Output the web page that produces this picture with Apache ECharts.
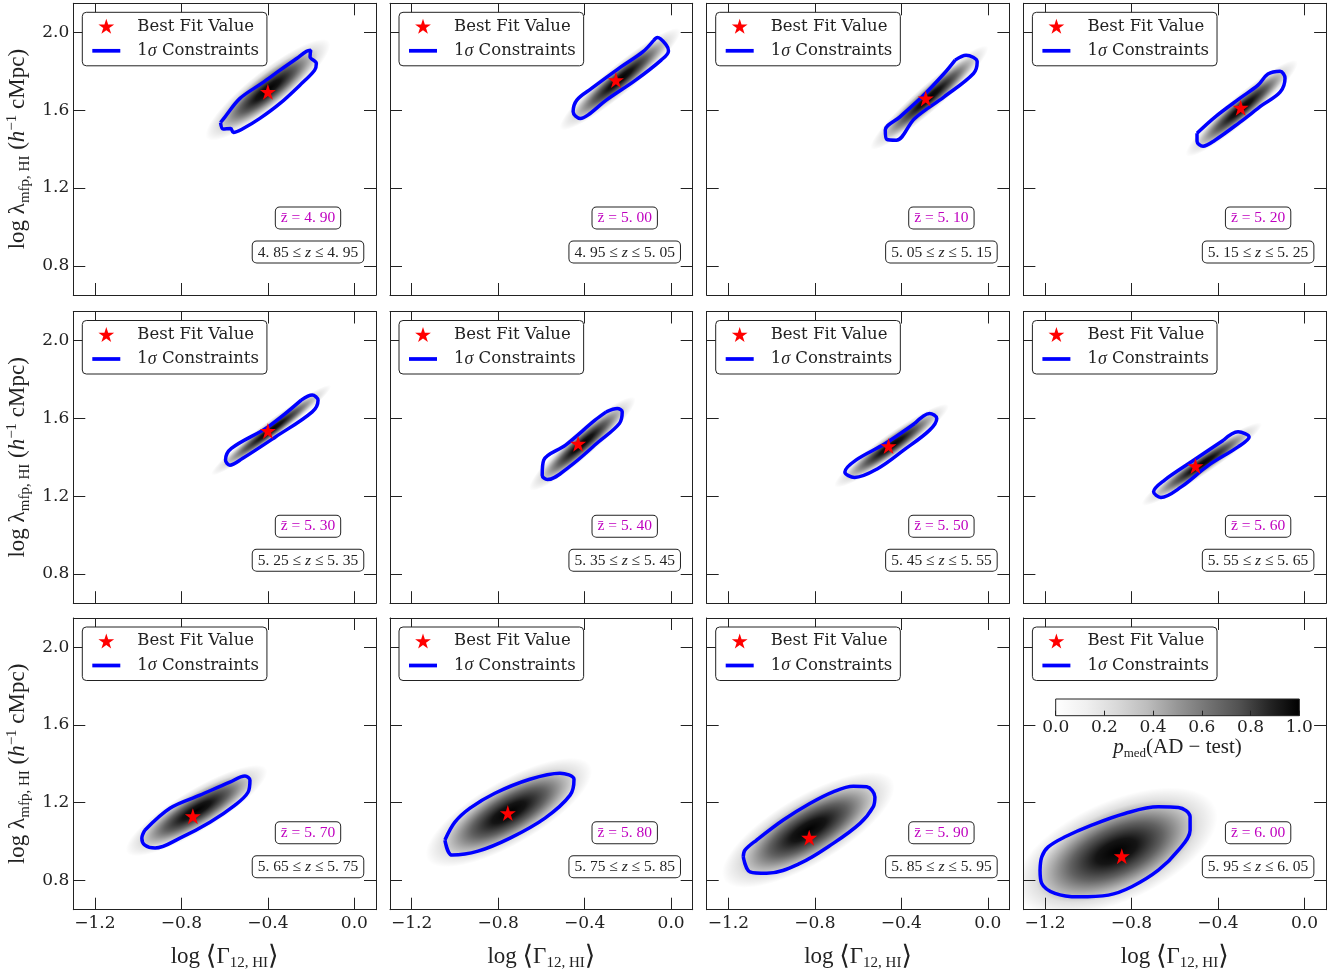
<!DOCTYPE html>
<html>
<head>
<meta charset="utf-8">
<script src="https://cdn.jsdelivr.net/npm/echarts@6/dist/echarts.min.js"></script>
<style>html,body{margin:0;padding:0;background:#fff;}#c{width:1341px;height:976px;}</style>
</head>
<body>
<div id="c"></div>
<script>
// ---------------- DATA ----------------
const xTicks = [-1.2, -0.8, -0.4, 0.0];
const yTicks = [0.8, 1.2, 1.6, 2.0];
const cbTicks = [0.0, 0.2, 0.4, 0.6, 0.8, 1.0];
const zMean = ['4. 90','5. 00','5. 10','5. 20','5. 30','5. 40','5. 50','5. 60','5. 70','5. 80','5. 90','6. 00'];
const zLow  = ['4. 85','4. 95','5. 05','5. 15','5. 25','5. 35','5. 45','5. 55','5. 65','5. 75','5. 85','5. 95'];
const zHigh = ['4. 95','5. 05','5. 15','5. 25','5. 35','5. 45','5. 55','5. 65','5. 75','5. 85','5. 95','6. 05'];
// best fit (log Gamma, log lambda)
const bestX = [-0.40,-0.255,-0.287,-0.295,-0.40,-0.43,-0.459,-0.504,-0.747,-0.755,-0.826,-0.845];
const bestY = [1.695,1.755,1.661,1.613,1.536,1.470,1.458,1.355,1.131,1.147,1.020,0.925];
// density blob: centre, end of major axis, vertical half thickness
const blobCX = [-0.40,-0.235,-0.27,-0.29,-0.385,-0.41,-0.445,-0.475,-0.73,-0.75,-0.83,-0.87];
const blobCY = [1.705,1.76,1.665,1.61,1.54,1.47,1.46,1.365,1.16,1.15,1.06,0.95];
const blobTX = [-0.19,-0.03,-0.07,-0.10,-0.18,-0.23,-0.25,-0.27,-0.49,-0.47,-0.54,-0.53];
const blobTY = [1.89,1.95,1.86,1.79,1.71,1.645,1.615,1.52,1.32,1.33,1.25,1.12];
const blobHT = [0.085,0.065,0.06,0.06,0.04,0.06,0.05,0.045,0.085,0.13,0.14,0.195];
// 1-sigma contours
const contour01 = [[-0.619,1.537],[-0.599,1.565],[-0.529,1.661],[-0.429,1.738],[-0.344,1.806],[-0.267,1.866],[-0.221,1.904],[-0.202,1.909],[-0.205,1.875],[-0.176,1.841],[-0.184,1.806],[-0.252,1.729],[-0.344,1.635],[-0.437,1.558],[-0.514,1.506],[-0.560,1.486],[-0.572,1.506],[-0.607,1.503]];
const contour02 = [[-0.080,1.960],[-0.063,1.974],[-0.022,1.935],[-0.012,1.905],[-0.046,1.858],[-0.164,1.755],[-0.300,1.652],[-0.385,1.575],[-0.420,1.558],[-0.453,1.592],[-0.436,1.652],[-0.368,1.712],[-0.232,1.823],[-0.131,1.900]];
const contour03 = [[-0.151,1.858],[-0.100,1.883],[-0.049,1.849],[-0.066,1.789],[-0.202,1.669],[-0.338,1.558],[-0.423,1.446],[-0.467,1.450],[-0.474,1.498],[-0.406,1.566],[-0.304,1.669],[-0.202,1.789]];
const contour04 = [[-0.497,1.482],[-0.414,1.565],[-0.298,1.662],[-0.215,1.729],[-0.169,1.786],[-0.113,1.801],[-0.090,1.765],[-0.113,1.693],[-0.196,1.626],[-0.298,1.539],[-0.414,1.446],[-0.469,1.415],[-0.497,1.441]];
const contour05 = [[-0.246,1.694],[-0.195,1.720],[-0.168,1.694],[-0.195,1.634],[-0.365,1.505],[-0.518,1.394],[-0.576,1.360],[-0.596,1.386],[-0.569,1.446],[-0.399,1.557]];
const contour06 = [[-0.300,1.634],[-0.249,1.651],[-0.226,1.634],[-0.239,1.574],[-0.335,1.480],[-0.471,1.351],[-0.572,1.286],[-0.596,1.308],[-0.589,1.386],[-0.488,1.463],[-0.352,1.591]];
const contour07 = [[-0.338,1.574],[-0.269,1.626],[-0.236,1.600],[-0.269,1.540],[-0.389,1.437],[-0.508,1.343],[-0.616,1.297],[-0.661,1.325],[-0.610,1.386],[-0.474,1.471]];
const contour08 = [[-0.375,1.488],[-0.307,1.531],[-0.256,1.505],[-0.307,1.454],[-0.443,1.360],[-0.570,1.248],[-0.664,1.194],[-0.698,1.223],[-0.647,1.283],[-0.511,1.386]];
const contour09 = [[-0.969,1.059],[-0.853,1.172],[-0.714,1.239],[-0.576,1.306],[-0.506,1.337],[-0.483,1.316],[-0.492,1.254],[-0.552,1.188],[-0.668,1.100],[-0.807,1.018],[-0.922,0.967],[-0.969,0.982],[-0.983,1.018]];
const contour10 = [[-1.046,1.008],[-1.000,1.100],[-0.930,1.172],[-0.815,1.249],[-0.653,1.321],[-0.514,1.352],[-0.449,1.321],[-0.467,1.239],[-0.583,1.121],[-0.745,1.018],[-0.893,0.951],[-1.013,0.931]];
const contour11 = [[-1.131,0.922],[-1.123,0.956],[-1.069,1.008],[-0.946,1.111],[-0.823,1.196],[-0.715,1.256],[-0.622,1.285],[-0.560,1.282],[-0.522,1.230],[-0.530,1.179],[-0.591,1.094],[-0.715,0.991],[-0.869,0.888],[-1.023,0.837],[-1.100,0.845]];
const contour12 = [[-1.223,0.853],[-1.215,0.922],[-1.185,0.973],[-1.107,1.025],[-0.984,1.085],[-0.830,1.145],[-0.676,1.179],[-0.583,1.176],[-0.529,1.128],[-0.529,1.059],[-0.583,0.956],[-0.676,0.853],[-0.799,0.768],[-0.907,0.725],[-1.046,0.716],[-1.154,0.734],[-1.215,0.785]];
const contours = [contour01,contour02,contour03,contour04,contour05,contour06,contour07,contour08,contour09,contour10,contour11,contour12];

// ---------------- LAYOUT / STYLE ----------------
const L = [73.3, 390, 706.7, 1023.4], T = [3.3, 311.5, 618], W = 302.7, H = 291.7;
const AX = '#222';
const starPath = 'path://M50 0 L61.2 34.5 L97.6 34.5 L68.2 55.9 L79.4 90.5 L50 69.1 L20.6 90.5 L31.8 55.9 L2.4 34.5 L38.8 34.5 Z';
const linePath = 'path://M0 0 H30 V4 H0 Z';
const fmt = v => (v < -1e-9 ? '\u2212' : '') + Math.abs(v).toFixed(1);
const nameRich = {
  t: {fontFamily: 'Liberation Serif', fontSize: 23, lineHeight: 28, color: AX},
  i: {fontFamily: 'Liberation Serif', fontSize: 23, fontStyle: 'italic', lineHeight: 28, color: AX},
  b: {fontFamily: 'DejaVu Serif', fontSize: 27, lineHeight: 28, color: AX},
  s: {fontFamily: 'Liberation Serif', fontSize: 15, lineHeight: 15, verticalAlign: 'bottom', color: AX},
  sup: {fontFamily: 'Liberation Serif', fontSize: 15, lineHeight: 15, verticalAlign: 'top', color: AX}
};
const cbRich = {
  t: {fontFamily: 'Liberation Serif', fontSize: 21, lineHeight: 26, color: AX},
  i: {fontFamily: 'Liberation Serif', fontSize: 21, fontStyle: 'italic', lineHeight: 26, color: AX},
  s: {fontFamily: 'Liberation Serif', fontSize: 13, lineHeight: 13, verticalAlign: 'bottom', color: AX}
};
const greys = [[0,'#ffffff'],[0.125,'#f0f0f0'],[0.25,'#d9d9d9'],[0.375,'#bdbdbd'],[0.5,'#969696'],[0.625,'#737373'],[0.75,'#525252'],[0.875,'#252525'],[1,'#000000']];

const grids = [], xAxes = [], yAxes = [], series = [], legends = [], graphics = [];

function axCommon(extra) {
  return Object.assign({
    type: 'value', splitLine: {show: false}, z: 5,
    axisLine: {show: true, onZero: false, lineStyle: {color: AX, width: 1}}
  }, extra);
}

for (let i = 0; i < 12; i++) {
  const r = Math.floor(i / 4), c = i % 4;
  grids.push({left: L[c], top: T[r], width: W, height: H});
  const tick = (vals) => ({show: true, inside: true, length: 12, customValues: vals, lineStyle: {color: AX, width: 1}});
  const xb = axCommon({gridIndex: i, position: 'bottom', min: -1.3, max: 0.1,
    axisTick: tick(xTicks),
    axisLabel: {show: r === 2, customValues: xTicks, formatter: fmt, fontFamily: 'DejaVu Serif', fontSize: 17, color: AX, margin: 5}});
  if (r === 2) {
    Object.assign(xb, {name: '{t|log }{b|\u27E8}{t|\u0393}{s|12, HI}{b|\u27E9}', nameLocation: 'middle', nameGap: 33,
      nameTextStyle: {rich: nameRich}});
  }
  xAxes.push(xb);
  xAxes.push(axCommon({gridIndex: i, position: 'top', min: -1.3, max: 0.1, axisTick: tick(xTicks), axisLabel: {show: false}}));
  const yl = axCommon({gridIndex: i, position: 'left', min: 0.65, max: 2.15,
    axisTick: tick(yTicks),
    axisLabel: {show: c === 0, customValues: yTicks, formatter: fmt, fontFamily: 'DejaVu Serif', fontSize: 17, color: AX, margin: 4}});
  if (c === 0) {
    Object.assign(yl, {name: '{t|log \u03BB}{s|mfp, HI}{t| (}{i|h}{sup|\u22121}{t| cMpc)}', nameLocation: 'middle', nameGap: 41, nameRotate: 90,
      nameTextStyle: {rich: nameRich}});
  }
  yAxes.push(yl);
  yAxes.push(axCommon({gridIndex: i, position: 'right', min: 0.65, max: 2.15, axisTick: tick(yTicks), axisLabel: {show: false}}));

  const xi = 2 * i, yi = 2 * i;
  // density blob
  series.push({
    type: 'custom', name: 'density', xAxisIndex: xi, yAxisIndex: yi, clip: true, z: 1,
    data: [[blobCX[i], blobCY[i], blobTX[i], blobTY[i], blobHT[i]]],
    renderItem: function (params, api) {
      const cpt = api.coord([api.value(0), api.value(1)]);
      const tpt = api.coord([api.value(2), api.value(3)]);
      const dx = tpt[0] - cpt[0], dy = tpt[1] - cpt[1];
      const ang = Math.atan2(-dy, dx);
      const a = Math.hypot(dx, dy) * 1.35;
      const hpx = api.size([0, api.value(4)])[1];
      const b = hpx * Math.cos(ang) * 1.45;
      return {
        type: 'circle', x: cpt[0], y: cpt[1], rotation: ang, scaleX: 1, scaleY: b / a,
        shape: {cx: 0, cy: 0, r: a},
        style: {fill: {type: 'radial', x: 0.5, y: 0.5, r: 0.5, colorStops: [
          {offset: 0, color: 'rgba(0,0,0,1)'}, {offset: 0.2, color: 'rgba(0,0,0,0.92)'},
          {offset: 0.45, color: 'rgba(0,0,0,0.62)'}, {offset: 0.65, color: 'rgba(0,0,0,0.32)'},
          {offset: 0.8, color: 'rgba(0,0,0,0.12)'}, {offset: 1, color: 'rgba(0,0,0,0)'}]}}
      };
    }
  });
  // contour
  const cd = contours[i].concat([contours[i][0]]);
  series.push({
    type: 'line', name: '1\u03C3 Constraints', xAxisIndex: xi, yAxisIndex: yi, data: cd,
    smooth: 0.35, showSymbol: false, symbol: 'none', clip: true, z: 3,
    itemStyle: {color: '#0000ff'}, lineStyle: {color: '#0000ff', width: 3.5}
  });
  // best fit star
  series.push({
    type: 'scatter', name: 'Best Fit Value', xAxisIndex: xi, yAxisIndex: yi,
    data: [[bestX[i], bestY[i]]], symbol: starPath, symbolSize: 16, z: 4,
    itemStyle: {color: '#ff0000', opacity: 1}
  });
  legends.push({
    left: L[c] + 9, top: T[r] + 9, orient: 'vertical', z: 6,
    backgroundColor: '#fff', borderColor: AX, borderWidth: 1, borderRadius: 4,
    padding: [5, 8, 6, 10], itemGap: 6.5, itemWidth: 28, itemHeight: 15,
    selectedMode: false,
    data: [
      {name: 'Best Fit Value', icon: starPath, itemStyle: {color: '#ff0000', opacity: 1}},
      {name: '1\u03C3 Constraints', icon: linePath, itemStyle: {color: '#0000ff', opacity: 1}}
    ],
    formatter: n => n === 'Best Fit Value' ? n : '1{s|\u03C3} Constraints',
    textStyle: {fontFamily: 'DejaVu Serif', fontSize: 16.5, lineHeight: 18, color: AX, padding: [0, 0, 0, 12],
      rich: {s: {fontFamily: 'Liberation Serif', fontStyle: 'italic', fontSize: 18, color: AX}}}
  });
  const cx = L[c] + W - 68;
  graphics.push({
    type: 'text', x: cx, y: T[r] + 214.7, z: 10,
    style: {text: 'z\u0304 = ' + zMean[i], fill: '#bf00bf', fontFamily: 'Liberation Serif', fontSize: 15.5,
      align: 'center', verticalAlign: 'middle', backgroundColor: '#fff', borderColor: AX, borderWidth: 1,
      borderRadius: 4, padding: [3, 5, 2, 5]}
  });
  graphics.push({
    type: 'text', x: cx, y: T[r] + 248.7, z: 10,
    style: {text: zLow[i] + ' \u2264 {i|z} \u2264 ' + zHigh[i], fill: AX, fontFamily: 'Liberation Serif', fontSize: 15.5,
      rich: {i: {fontFamily: 'Liberation Serif', fontStyle: 'italic', fontSize: 15.5, fill: AX}},
      align: 'center', verticalAlign: 'middle', backgroundColor: '#fff', borderColor: AX, borderWidth: 1,
      borderRadius: 4, padding: [3, 5, 2, 5]}
  });
}

// colorbar grid
grids.push({left: 1055.7, top: 699, width: 243.6, height: 16.7});
xAxes.push({type: 'value', gridIndex: 12, position: 'bottom', min: 0, max: 1, interval: 0.2, z: 10,
  axisLine: {show: false}, splitLine: {show: false},
  axisTick: {show: true, inside: true, length: 5, lineStyle: {color: AX, width: 1}},
  axisLabel: {formatter: v => v.toFixed(1), fontFamily: 'DejaVu Serif', fontSize: 17, color: AX, margin: 3},
  name: '{i|p}{s|med}{t|(AD \u2212 test)}', nameLocation: 'middle', nameGap: 16,
  nameTextStyle: {rich: cbRich}});
yAxes.push({type: 'value', gridIndex: 12, min: 0, max: 1, show: false});
series.push({
  type: 'custom', name: 'colorbar', xAxisIndex: 24, yAxisIndex: 24, z: 1,
  data: [[0, 0, 1, 1]],
  renderItem: function (params, api) {
    const p0 = api.coord([api.value(0), api.value(1)]);
    const p1 = api.coord([api.value(2), api.value(3)]);
    return {type: 'rect', shape: {x: p0[0], y: p1[1], width: p1[0] - p0[0], height: p0[1] - p1[1]},
      style: {fill: {type: 'linear', x: 0, y: 0, x2: 1, y2: 0,
        colorStops: greys.map(s => ({offset: s[0], color: s[1]}))}, stroke: AX, lineWidth: 1}};
  }
});

const chart = echarts.init(document.getElementById('c'), null, {renderer: 'canvas'});
chart.setOption({
  animation: false, backgroundColor: '#fff',
  grid: grids, xAxis: xAxes, yAxis: yAxes, series: series, legend: legends, graphic: graphics
});
</script>
</body>
</html>
